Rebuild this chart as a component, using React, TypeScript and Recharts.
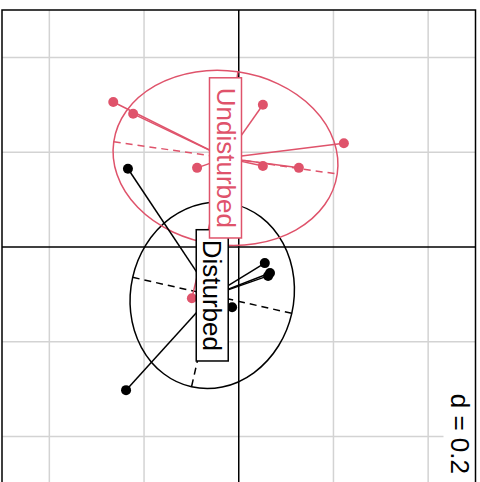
import React from 'react';
import {
  ScatterChart,
  Scatter,
  XAxis,
  YAxis,
  ReferenceLine,
  ReferenceArea,
  ReferenceDot,
} from 'recharts';

// Group scores on the first two axes
const GROUPS = ['Disturbed', 'Undisturbed'];
const GROUP_COLORS = ['#000000', '#DF536B'];

const DISTURBED_X = [-0.234, 0.055, 0.062, 0.066, -0.014, -0.238];
const DISTURBED_Y = [0.165, -0.034, -0.061, -0.055, -0.127, -0.302];

const UNDISTURBED_X = [-0.265, -0.223, 0.051, 0.222, -0.088, 0.051, 0.127, -0.099];
const UNDISTURBED_Y = [0.306, 0.281, 0.3, 0.219, 0.167, 0.171, 0.167, -0.108];

// Group centres (where the class labels sit)
const CENTER_X = [-0.056, -0.028];
const CENTER_Y = [-0.102, 0.188];

// Ellipse half-axis vectors and the ratio of the second half-axis to the first
const AXIS_DX = [0.168, 0.236];
const AXIS_DY = [-0.038, -0.034];
const AXIS_RATIO = [1.15, 0.77];

// Grid spacing and domain
const GRID_STEP_LABEL = 'd = 0.2';
const GRID_TICKS = [-0.4, -0.2, 0.2, 0.4];
const DOMAIN: [number, number] = [-0.5, 0.5];

const FONT = '"Liberation Sans", Arial, Helvetica, sans-serif';
const FONT_SIZE = 26;

const pointsOf = (xs: number[], ys: number[]) => xs.map((x, i) => ({ x, y: ys[i] }));
const GROUP_POINTS = [
  pointsOf(DISTURBED_X, DISTURBED_Y),
  pointsOf(UNDISTURBED_X, UNDISTURBED_Y),
];

const labelData = GROUPS.map((name, i) => ({
  name,
  x: CENTER_X[i],
  y: CENTER_Y[i],
  color: GROUP_COLORS[i],
}));

let measureCtx: CanvasRenderingContext2D | null = null;
const textWidth = (text: string) => {
  if (!measureCtx) {
    const c = document.createElement('canvas');
    measureCtx = c.getContext('2d');
  }
  if (!measureCtx) return text.length * FONT_SIZE * 0.5;
  measureCtx.font = `${FONT_SIZE}px ${FONT}`;
  return measureCtx.measureText(text).width;
};

const dotShape = (color: string) => (props: any) => (
  <circle cx={props.cx} cy={props.cy} r={5} fill={color} stroke="none" />
);

// Ellipse drawn around the segment spanning one principal axis
const ellipseShape = (ratio: number, color: string) => (props: any) => {
  const { x1, y1, x2, y2 } = props;
  const cx = (x1 + x2) / 2;
  const cy = (y1 + y2) / 2;
  const dx = (x2 - x1) / 2;
  const dy = (y2 - y1) / 2;
  const a = Math.hypot(dx, dy);
  const b = a * ratio;
  const ang = (Math.atan2(dy, dx) * 180) / Math.PI;
  const ux = -dy / a;
  const uy = dx / a;
  return (
    <g>
      <ellipse
        cx={cx}
        cy={cy}
        rx={a}
        ry={b}
        transform={`rotate(${ang} ${cx} ${cy})`}
        fill="none"
        stroke={color}
        strokeWidth={1.5}
      />
      <line x1={x1} y1={y1} x2={x2} y2={y2} stroke={color} strokeWidth={1.5} strokeDasharray="7 5" />
      <line
        x1={cx - ux * b}
        y1={cy - uy * b}
        x2={cx + ux * b}
        y2={cy + uy * b}
        stroke={color}
        strokeWidth={1.5}
        strokeDasharray="7 5"
      />
    </g>
  );
};

const labelShape = (props: any) => {
  const { cx, cy, payload } = props;
  const len = textWidth(payload.name) + 20;
  const thick = 32;
  return (
    <g>
      <rect
        x={cx - thick / 2}
        y={cy - len / 2}
        width={thick}
        height={len}
        fill="#FFFFFF"
        stroke={payload.color}
        strokeWidth={1.5}
      />
      <text
        x={cx}
        y={cy}
        transform={`rotate(90 ${cx} ${cy})`}
        textAnchor="middle"
        dominantBaseline="central"
        fontFamily={FONT}
        fontSize={FONT_SIZE}
        fill={payload.color}
      >
        {payload.name}
      </text>
    </g>
  );
};

const scaleLabelShape = (props: any) => {
  const { cx, cy } = props;
  const len = textWidth(GRID_STEP_LABEL) + 20;
  const thick = 32;
  const tx = cx - thick / 2;
  const ty = cy - len / 2;
  return (
    <g>
      <rect x={cx - thick} y={cy - len} width={thick} height={len} fill="#FFFFFF" stroke="none" />
      <text
        x={tx}
        y={ty}
        transform={`rotate(90 ${tx} ${ty})`}
        textAnchor="middle"
        dominantBaseline="central"
        fontFamily={FONT}
        fontSize={FONT_SIZE}
        fill="#000000"
      >
        {GRID_STEP_LABEL}
      </text>
    </g>
  );
};

export default function App() {
  return (
    <div
      style={{
        position: 'fixed',
        left: 0,
        top: 0,
        width: 480,
        height: 482,
        overflow: 'hidden',
        background: '#FFFFFF',
      }}
    >
      <ScatterChart width={480} height={490} margin={{ top: 10, right: 4.5, bottom: 6, left: 2 }}>
        <XAxis type="number" dataKey="x" domain={DOMAIN} hide allowDataOverflow />
        <YAxis type="number" dataKey="y" domain={DOMAIN} hide allowDataOverflow />

        {GRID_TICKS.map((t) => (
          <ReferenceLine key={`gx${t}`} x={t} stroke="#D3D3D3" strokeWidth={1.5} zIndex={10} />
        ))}
        {GRID_TICKS.map((t) => (
          <ReferenceLine key={`gy${t}`} y={t} stroke="#D3D3D3" strokeWidth={1.5} zIndex={10} />
        ))}
        <ReferenceLine x={0} stroke="#000000" strokeWidth={1.5} zIndex={20} />
        <ReferenceLine y={0} stroke="#000000" strokeWidth={1.5} zIndex={20} />

        {GROUPS.map((g, i) => (
          <ReferenceLine
            key={`ell${g}`}
            segment={[
              { x: CENTER_X[i] - AXIS_DX[i], y: CENTER_Y[i] - AXIS_DY[i] },
              { x: CENTER_X[i] + AXIS_DX[i], y: CENTER_Y[i] + AXIS_DY[i] },
            ]}
            ifOverflow="visible"
            shape={ellipseShape(AXIS_RATIO[i], GROUP_COLORS[i])}
            zIndex={30}
          />
        ))}

        {GROUPS.map((g, i) =>
          GROUP_POINTS[i].map((p, j) => (
            <ReferenceLine
              key={`sp${g}${j}`}
              segment={[
                { x: p.x, y: p.y },
                { x: CENTER_X[i], y: CENTER_Y[i] },
              ]}
              ifOverflow="visible"
              stroke={GROUP_COLORS[i]}
              strokeWidth={1.5}
              zIndex={40}
            />
          ))
        )}

        {GROUPS.map((g, i) => (
          <Scatter
            key={`pts${g}`}
            data={GROUP_POINTS[i]}
            shape={dotShape(GROUP_COLORS[i])}
            isAnimationActive={false}
            zIndex={50}
          />
        ))}

        <Scatter data={labelData} shape={labelShape} isAnimationActive={false} zIndex={60} />

        <ReferenceDot
          x={DOMAIN[1]}
          y={DOMAIN[0]}
          ifOverflow="visible"
          shape={scaleLabelShape}
          zIndex={70}
        />

        <ReferenceArea
          x1={DOMAIN[0]}
          x2={DOMAIN[1]}
          y1={DOMAIN[0]}
          y2={DOMAIN[1]}
          fill="none"
          fillOpacity={0}
          stroke="#000000"
          strokeWidth={1.5}
          ifOverflow="visible"
          zIndex={80}
        />
      </ScatterChart>
    </div>
  );
}
